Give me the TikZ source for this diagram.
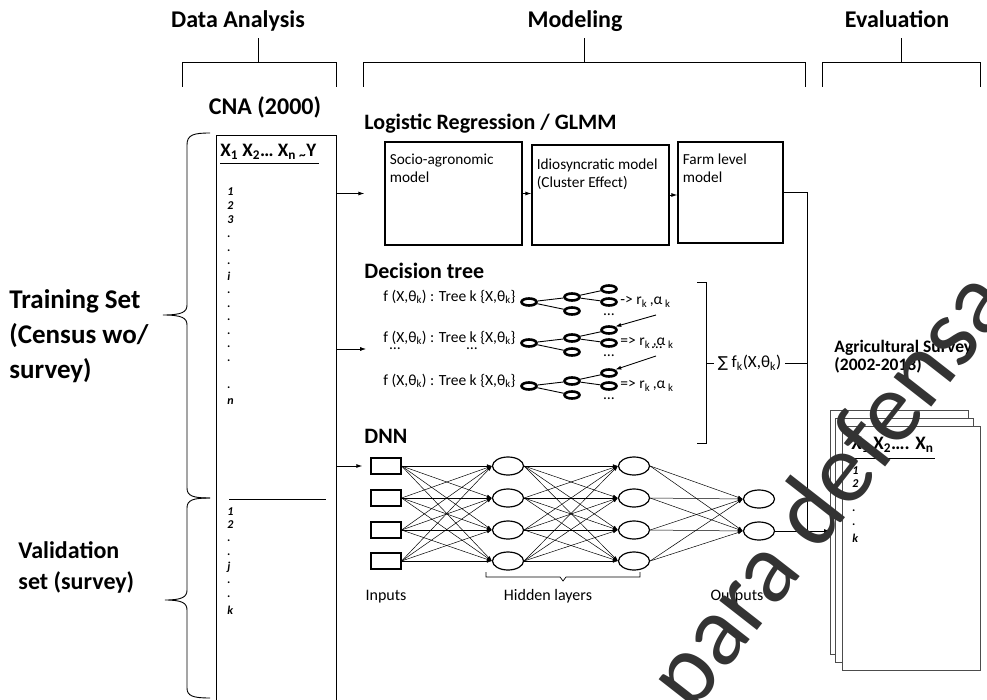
\documentclass[tikz,border=0pt]{standalone}
\usepackage{fontspec}
\setmainfont{Carlito}
\newfontfamily\symfont{DejaVu Sans}
\usetikzlibrary{positioning, arrows.meta, calc, shapes.geometric}

\begin{document}
\begin{tikzpicture}[x=1pt, y=-1pt, >={Latex[length=6pt,width=4pt]}, line width=0.9pt,
  headtxt/.style={font=\fontsize{24}{26}\selectfont\bfseries},
  secttxt/.style={font=\fontsize{22}{24}\selectfont\bfseries, anchor=west, inner sep=1pt},
  sidetxt/.style={font=\fontsize{27}{35}\selectfont\bfseries, align=left, anchor=west, inner sep=0pt},
  rowlab/.style={font=\fontsize{12}{12}\selectfont\bfseries\itshape, anchor=west, inner sep=0pt},
  boxtxt/.style={font=\fontsize{15.3}{18}\selectfont, align=left, anchor=north west, inner sep=0pt},
  smalltxt/.style={font=\fontsize{15.5}{17}\selectfont},
  nettxt/.style={font=\fontsize{16}{17}\selectfont, anchor=base},
  modbox/.style={draw, line width=1.2pt},
  leaf/.style={ellipse, draw, line width=2.6pt, minimum width=15pt, minimum height=7pt, inner sep=0pt},
  inbox/.style={draw, line width=1.2pt, minimum width=30pt, minimum height=16pt},
  neuron/.style={ellipse, draw, line width=1.2pt, minimum width=31pt, minimum height=18pt, inner sep=0pt},
  sheet/.style={draw=black!70, fill=white, line width=1.2pt, minimum width=138pt, minimum height=244pt, anchor=north west},
  arr/.style={->},
  netarr/.style={-{Latex[length=5pt,width=3.5pt]}, line width=0.5pt}
]
  \useasboundingbox (0,0) rectangle (987,700);

  % stage headers with brackets
  \node[headtxt, anchor=base] (dahd) at (238,28) {Data Analysis};
  \node[headtxt, anchor=base] (modhd) at (575,28) {Modeling};
  \node[headtxt, anchor=base] (evalhd) at (897,28) {Evaluation};
  \draw (182,87) |- (336,62) -- (336,87) (258,62) -- (258,38);
  \draw (363,87) |- (805,62) -- (805,87) (584,62) -- (584,38);
  \draw (822,87) |- (980,62) -- (980,87) (901,62) -- (901,38);

  % census table
  \node[headtxt] (cnahd) at (265,107) {CNA (2000)};
  \node[draw, line width=1.2pt, minimum width=120pt, minimum height=580pt, anchor=north west] (cna) at (216,135) {};
  \node[font=\fontsize{19}{19}\selectfont\bfseries, anchor=west, inner sep=1pt] (cnavars) at (219,152)
    {X\textsubscript{1} X\textsubscript{2}… X\textsubscript{n}\,\textsubscript{\textasciitilde}Y};
  \draw (220,163) -- (319,163);
  \foreach \y/\t [count=\i] in {192/1,206/2,220/3,237/.,251/.,264/.,276/i,293/.,307/.,320/.,334/.,347/.,361/.,388/.,402/n}
    {\node[rowlab] (trrow\i) at (227,\y) {\t};}
  \draw (229,499) -- (326,499);
  \foreach \y/\t [count=\i] in {512/1,525/2,541/.,555/.,567/j,583/.,597/.,610/k}
    {\node[rowlab] (varow\i) at (227,\y) {\t};}

  % braces on the left
  \draw (210,133) .. controls (193,133) and (187,135) .. (187,145) -- (187,305)
    .. controls (187,312) and (182,315) .. (163,315) .. controls (182,315) and (187,318) .. (187,325)
    -- (187,488) .. controls (187,496) and (193,498) .. (210,498);
  \draw (210,498) .. controls (193,498) and (187,500) .. (187,508) -- (187,590)
    .. controls (187,597) and (182,600) .. (165,600) .. controls (182,600) and (187,603) .. (187,610)
    -- (187,688) .. controls (187,696) and (193,698) .. (210,698);
  \node[sidetxt] (trainlab) at (9,336) {Training Set\\(Census wo/\\survey)};
  \node[sidetxt, font=\fontsize{24}{31}\selectfont\bfseries] (validlab) at (18,567) {Validation\\set (survey)};

  % logistic regression / GLMM
  \node[secttxt] (glmmhd) at (363,124) {Logistic Regression / GLMM};
  \node[modbox, minimum width=137pt, minimum height=103pt] (socio) at (453.5,193.5) {};
  \node[modbox, minimum width=137pt, minimum height=100pt] (idio) at (600.5,195) {};
  \node[modbox, minimum width=105pt, minimum height=101pt] (farm) at (730.5,192.5) {};
  \node[boxtxt] (sociotxt) at ([xshift=5pt,yshift=-12pt]socio.north west) {Socio-agronomic\\model};
  \node[boxtxt] (idiotxt) at ([xshift=5pt,yshift=-14pt]idio.north west) {Idiosyncratic model\\(Cluster Effect)};
  \node[boxtxt] (farmtxt) at ([xshift=5pt,yshift=-12pt]farm.north west) {Farm level\\model};
  \draw[arr] (cna.east |- socio.west) -- ([xshift=-20pt]socio.west);
  \draw[arr] (socio.east) -- (socio.east -| idio.west);
  \draw[arr] (idio.east) -- (idio.east -| farm.west);

  % decision trees
  \node[secttxt] (dthd) at (363,271) {Decision tree};
  \foreach \r/\y/\op in {1/297/{->},2/338/{=>},3/381/{=>}} {
    \node[smalltxt, anchor=west, inner sep=0pt] (dt\r) at (383,\y) {f (X,θ\textsubscript{k}) : Tree k \{X,θ\textsubscript{k}\}};
    \node[leaf] (dt\r-n) at (529,\y+5) {};
    \node[leaf] (dt\r-a) at (572,\y) {};
    \node[leaf] (dt\r-b) at (572,\y+14) {};
    \node[leaf] (dt\r-aa) at (609,\y-8) {};
    \node[leaf] (dt\r-ab) at (609,\y+5) {};
    \draw (dt\r-n) -- (dt\r-a) (dt\r-n) -- (dt\r-b) (dt\r-a) -- (dt\r-aa) (dt\r-a) -- (dt\r-ab);
    \node[smalltxt, anchor=west, inner sep=0pt] (dt\r-out) at (620,\y+5) {\op\ r\textsubscript{k}\,,α\,\textsubscript{k}};
    \node[smalltxt, inner sep=0pt] (dt\r-more) at (609,\y+18) {…};
  }
  \node[smalltxt, inner sep=0pt] (dtmore1) at (395,349) {…};
  \node[smalltxt, inner sep=0pt] (dtmore2) at (472,349) {…};
  \node[smalltxt, inner sep=0pt] (dtmore3) at (657,348) {…};
  \coordinate (dtfrom1) at (656,315);
  \coordinate (dtfrom2) at (656,356);
  \draw[arr] (dtfrom1) -- (dt2-aa.north east);
  \draw[arr] (dtfrom2) -- (dt3-aa.north east);
  \draw[arr] (cna.east |- dtmore1) -- ++(29,0);
  \draw (697,282) -| (706,443) -- (697,443);
  \node[smalltxt, font=\fontsize{17}{17}\selectfont, anchor=west] (sumtxt) at (714,363) {{\symfont\fontsize{15}{15}\selectfont ∑} f\textsubscript{k}(X,θ\textsubscript{k})};
  \draw (706,363) -- (sumtxt.west);

  % DNN
  \node[secttxt] (dnnhd) at (363,436) {DNN};
  \foreach \i/\y in {1/466,2/498,3/530,4/561} {
    \node[inbox] (in\i) at (386,\y) {};
    \node[neuron] (ha\i) at (508,\y) {};
    \node[neuron] (hb\i) at (634,\y) {};
  }
  \node[neuron] (out1) at (759,499) {};
  \node[neuron] (out2) at (759,531) {};
  \foreach \i in {1,...,4}
    \foreach \j in {1,...,4} {
      \draw[netarr] (in\i.east) -- (ha\j.west);
      \draw[netarr] (ha\i.east) -- (hb\j.west);
    }
  \foreach \i in {1,...,4}
    \foreach \j in {1,2}
      {\draw[netarr] (hb\i.east) -- (out\j.west);}
  \draw[arr] (cna.east |- in1.west) -- ([xshift=-8pt]in1.west);
  \draw[line width=0.7pt] (486,572) -- (486,577) -- (560,577) -- (563,581) -- (566,577) -- (640,577) -- (640,572);
  \node[nettxt] (inlab) at (386,600) {Inputs};
  \node[nettxt] (hidlab) at (548,600) {Hidden layers};
  \node[nettxt] (outlab) at (737,600) {Outputs};

  % evaluation on the survey
  \node[font=\fontsize{17.5}{18}\selectfont\bfseries, anchor=west, align=left, inner sep=0pt] (survhd) at (834,357)
    {Agricultural Survey\\(2002-2013)};
  \node[sheet] (back) at (830,410) {};
  \node[sheet] (mid) at (835,418) {};
  \node[sheet] (front) at (842,426) {};
  \node[font=\fontsize{19}{19}\selectfont\bfseries, anchor=west, inner sep=1pt] (survvars) at (850,445)
    {X\textsubscript{1} X\textsubscript{2}…. X\textsubscript{n}};
  \draw (845,458) -- (935,458);
  \foreach \y/\t [count=\i] in {471/1,484/2,498/.,511/.,525/.,538/k}
    {\node[rowlab] (svrow\i) at (852,\y) {\t};}
  \coordinate (join) at (807,531);
  \draw (farm.east) -| (join);
  \draw (sumtxt.east) -- (sumtxt.east -| join);
  \draw[arr] (out2.east) -- (out2.east -| back.west);

  % watermark
  \node[rotate=52, font=\fontsize{100}{100}\selectfont, text=black!80] (wmark) at (832,492) {para defensa};
\end{tikzpicture}
\end{document}
